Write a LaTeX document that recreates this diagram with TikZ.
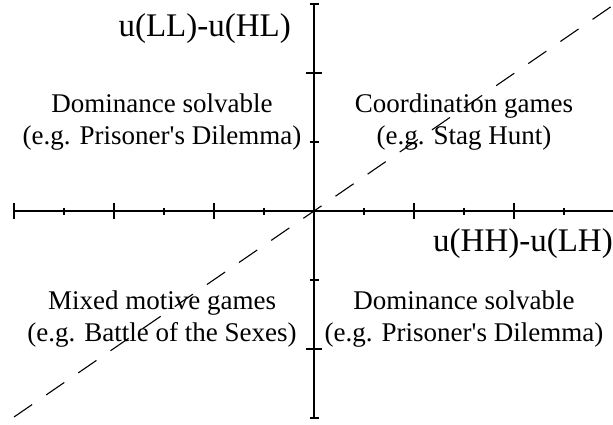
\documentclass[tikz,border=0pt]{standalone}
\usepackage{fontspec}
\setmainfont{Liberation Serif}
\newcommand{\sq}{\XeTeXglyph\XeTeXcharglyph"0027\relax}
\begin{document}
\begin{tikzpicture}[x=1pt,y=-1pt,
  axis/.style={line width=1.3pt},
  tickmark/.style={line width=1.3pt},
  diag/.style={line width=1.1pt,dash pattern=on 22pt off 17pt},
  region/.style={inner sep=0pt,anchor=base,font=\fontsize{27}{32}\selectfont},
  axlabel/.style={inner sep=0pt,anchor=base east,font=\fontsize{33}{38}\selectfont}]
\useasboundingbox (0,0) rectangle (613,424);
% axes
\coordinate (xl) at (14,211);
\coordinate (xr) at (613,211);
\coordinate (yt) at (314,4);
\coordinate (yb) at (314,418);
\coordinate (o) at (314,211);
\draw[axis] (xl) -- (xr);
\draw[axis] (yt) -- (yb);
% horizontal ticks
\foreach \k in {0,2,4,8,10} {\draw[tickmark] (14+50*\k,203) -- (14+50*\k,219);}
\foreach \k in {1,3,5,7,9,11} {\draw[tickmark] (14+50*\k,207.5) -- (14+50*\k,214.5);}
% vertical ticks
\foreach \j in {-2,2} {\draw[tickmark] (306,211+69*\j) -- (322,211+69*\j);}
\foreach \j in {-3,-1,1,3} {\draw[tickmark] (309.5,211+69*\j) -- (318.5,211+69*\j);}
% diagonal
\coordinate (dl) at (14,417);
\coordinate (dr) at (613,5.3);
\draw[diag] (dl) -- (o) -- (dr);
% labels
\node[axlabel] (ylab) at (291,36) {u(LL)-u(HL)};
\node[axlabel] (xlab) at (613,251) {u(HH)-u(LH)};
\node[region] (tl1) at (162,112) {Dominance solvable};
\node[region] (tl2) at (162,144) {(e.g. Prisoner\sq s Dilemma)};
\node[region] (tr1) at (464,112) {Coordination games};
\node[region] (tr2) at (464,144) {(e.g. Stag Hunt)};
\node[region] (bl1) at (162,309) {Mixed motive games};
\node[region] (bl2) at (162,341) {(e.g. Battle of the Sexes)};
\node[region] (br1) at (464,309) {Dominance solvable};
\node[region] (br2) at (464,341) {(e.g. Prisoner\sq s Dilemma)};
\end{tikzpicture}
\end{document}
